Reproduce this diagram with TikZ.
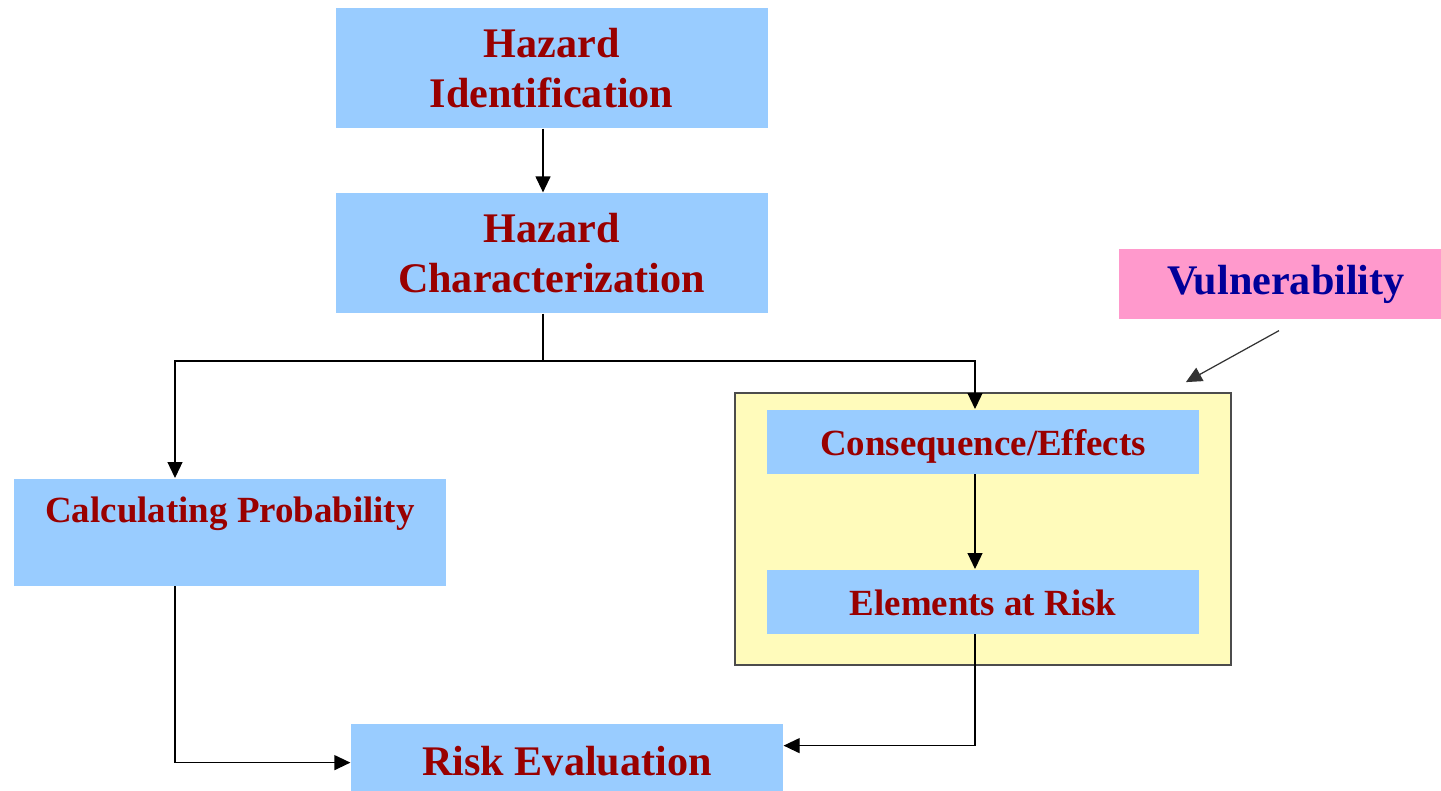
\documentclass[tikz,border=0pt]{standalone}
\usepackage{fontspec}
\setmainfont{Liberation Serif}
\usetikzlibrary{arrows.meta,positioning}
\definecolor{boxblue}{HTML}{99CCFF}
\definecolor{boxpink}{HTML}{FF99CC}
\definecolor{boxyellow}{HTML}{FFFBBB}
\definecolor{txtred}{HTML}{990000}
\definecolor{txtblue}{HTML}{000099}
\begin{document}
\begin{tikzpicture}[>={Triangle[length=1.6mm,width=1.5mm]},line width=0.35pt,
	font=\bfseries\fontsize{12}{14.2}\selectfont]
	\tikzset{blockbox/.style={fill=boxblue,text=txtred,inner sep=0pt,align=center,
			minimum width=4.32cm},
		smallbox/.style={blockbox,font=\bfseries\fontsize{10.5}{12}\selectfont}}
	\useasboundingbox (0,0) rectangle (14.41,7.90);
	% yellow frame
	\node[fill=boxyellow,draw=black!70,line width=0.5pt,minimum width=4.96cm,
		minimum height=2.72cm] (frame) at (9.83,2.61) {};
	\node[blockbox,minimum height=1.20cm] (hazid) at (5.515,7.22) {Hazard\\Identification};
	\node[blockbox,minimum height=1.20cm] (hazchar) at (5.515,5.37) {Hazard\\Characterization};
	\node[smallbox,anchor=north,text height=4.4mm,text depth=6.3mm] (calcprob) at (2.30,3.12)
		{Calculating Probability};
	\node[smallbox,anchor=north,text height=4.6mm,text depth=1.8mm] (conseq) at (9.83,3.81)
		{Consequence/Effects};
	\node[smallbox,anchor=north,text height=4.6mm,text depth=1.8mm] (elements) at (9.83,2.21)
		{Elements at Risk};
	\node[blockbox,anchor=north,text height=5.2mm,text depth=1.5mm] (riskeval) at (5.67,0.67)
		{Risk Evaluation};
	\node[fill=boxpink,text=txtblue,inner sep=0pt,minimum width=3.22cm,
		minimum height=0.70cm] (vuln) at (12.80,5.06) {\hspace{1.2mm}Vulnerability};
	% connectors
	\coordinate (split) at (5.43,4.29);
	\coordinate (left) at (1.75,4.29);
	\coordinate (right) at (9.75,4.29);
	\draw[->] ([xshift=-0.85mm]hazid.south) -- ([xshift=-0.85mm]hazchar.north);
	\draw (hazchar.south -| split) -- (split);
	\draw[->] (split) -| (calcprob.north -| left);
	\draw[->] (split) -| (conseq.north -| right);
	\draw[->] (conseq.south -| right) -- (elements.north -| right);
	\draw[->] (calcprob.south -| left) |- ([yshift=-0.55mm]riskeval.west);
	\draw[->] (elements.south -| right) |- ([yshift=1.15mm]riskeval.east);
	\draw[->,black!80] ([xshift=-0.1mm,yshift=-1.1mm]vuln.south)
		-- ([xshift=-4.6mm,yshift=1mm]frame.north east);
\end{tikzpicture}
\end{document}
